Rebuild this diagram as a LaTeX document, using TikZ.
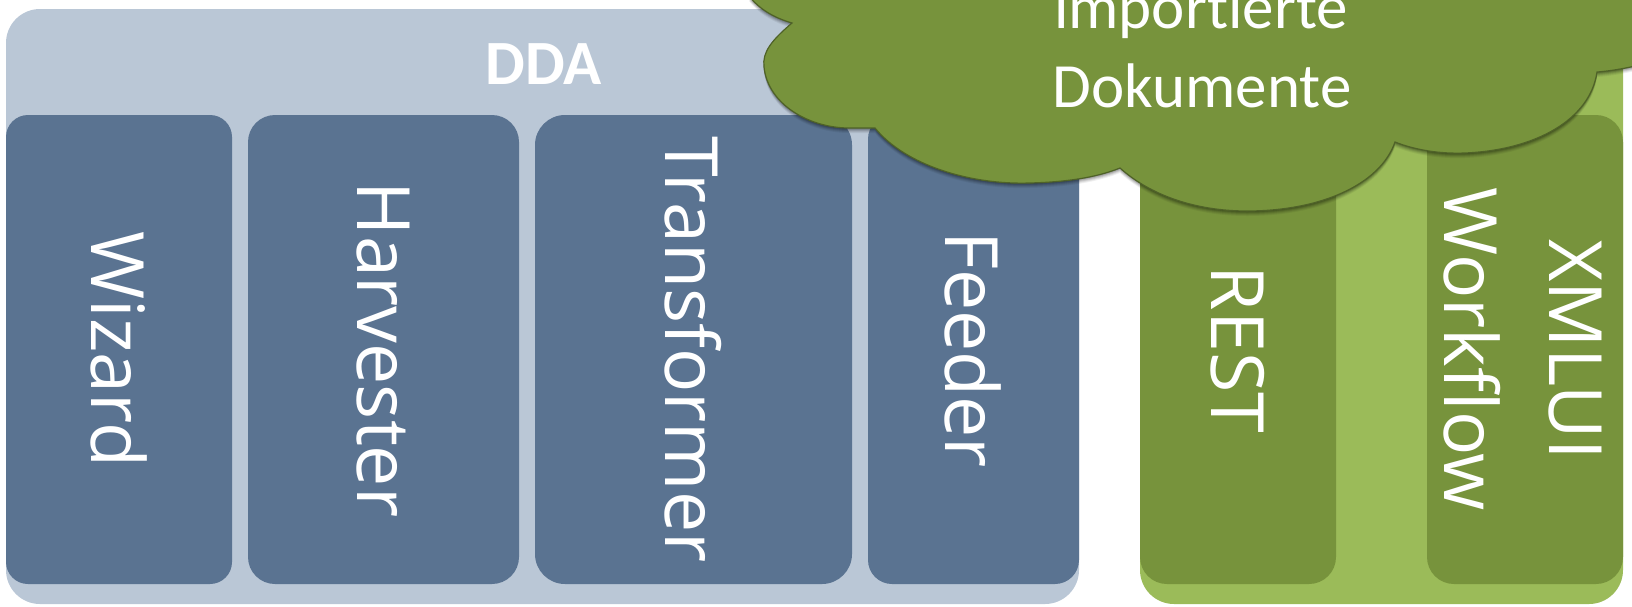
\documentclass[tikz,border=0pt]{standalone}
\usepackage{fontspec}
\setmainfont[Ligatures={NoCommon}]{Carlito}
\newfontfamily\rotfont{Open Sans}
\definecolor{bluepale}{HTML}{BAC7D6}
\definecolor{bluedark}{HTML}{5A7391}
\definecolor{greenpale}{HTML}{9BBB59}
\definecolor{greendark}{HTML}{77933C}
\definecolor{cloudline}{HTML}{4F6228}
\tikzset{
 panel/.style={rounded corners=34pt,inner sep=0pt,outer sep=0pt},
 cell/.style={rounded corners=24pt,inner sep=0pt,outer sep=0pt,text=white,font=\rotfont\fontsize{73.5pt}{74pt}\selectfont},
}
\newcommand{\vlabel}[1]{\rotatebox{-90}{#1}}
\newcommand{\cloudpath}{(749,-4) .. controls (760,10) and (775,18) .. (792,23)
 .. controls (772,40) and (762,52) .. (764,67)
 .. controls (768,105) and (810,128) .. (849,128) -- (875,128)
 .. controls (905,165) and (970,185) .. (1030,183)
 .. controls (1065,182) and (1095,178) .. (1120,168)
 .. controls (1150,195) and (1195,211) .. (1247,211)
 .. controls (1320,211) and (1380,185) .. (1395,142)
 .. controls (1415,150) and (1440,154) .. (1465,153)
 .. controls (1535,150) and (1590,120) .. (1597,72)
 .. controls (1610,71) and (1622,69) .. (1640,65) -- (1640,-4) -- cycle}
\begin{document}
\begin{tikzpicture}[x=1pt,y=-1pt]
\useasboundingbox (0,0) rectangle (1632,606);
\node[panel,fill=bluepale,minimum width=1073pt,minimum height=595pt] (dda) at (542.5,306.5) {};
\node[panel,fill=greenpale,minimum width=483pt,minimum height=595pt] (right) at (1381.5,306.5) {};
\node[text=white,font=\bfseries\fontsize{63pt}{63pt}\selectfont] (ddat) at (544,64) {DDA};
\node[cell,rounded corners=22pt,fill=bluedark,minimum width=226pt,minimum height=469pt] (wizard) at (119,349.5) {\vlabel{Wizard}};
\node[cell,rounded corners=27pt,fill=bluedark,minimum width=271pt,minimum height=469pt] (harv) at (383.5,349.5) {\vlabel{Harvester}};
\node[cell,rounded corners=30pt,fill=bluedark,minimum width=317pt,minimum height=469pt] (trans) at (693.5,349.5) {\vlabel{Transformer}};
\node[cell,fill=bluedark,minimum width=211pt,minimum height=469pt] (feed) at (973.5,349.5) {\vlabel{Feeder}};
\node[cell,rounded corners=27pt,fill=greendark,minimum width=196pt,minimum height=469pt] (rest) at (1238,349.5) {\vlabel{REST}};
\node[cell,rounded corners=27pt,fill=greendark,minimum width=196pt,minimum height=469pt] (wf) at (1525,349.5) {};
\node[cell] (wft) at (1472,349.5) {\vlabel{Workflow}};
\node[cell] (xml) at (1575,349.5) {\vlabel{XMLUI}};
\foreach \d/\o in {5/.06,4/.08,3/.1,2/.12,1/.14}{
 \begin{scope}[yshift=-\d pt]
 \fill[black,opacity=\o] \cloudpath;
 \end{scope}}
\filldraw[fill=greendark,draw=cloudline,line width=1.2pt] \cloudpath;
\node[text=white,font=\fontsize{63pt}{63pt}\selectfont] (imp) at (1201,12) {importierte};
\node[text=white,font=\fontsize{63pt}{63pt}\selectfont] (dok) at (1202,86) {Dokumente};
\end{tikzpicture}
\end{document}
